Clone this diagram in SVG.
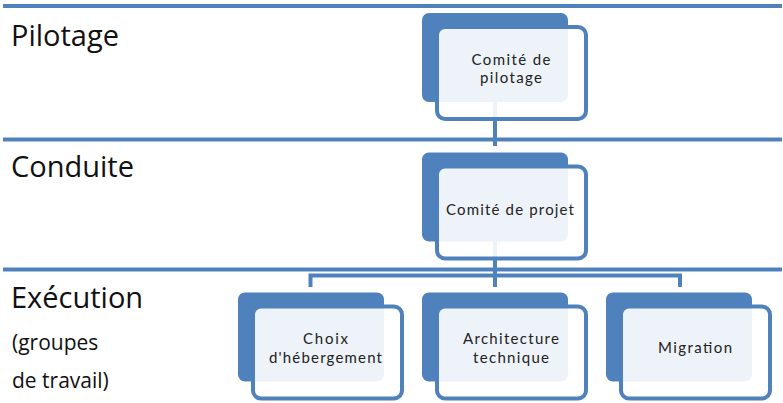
<svg xmlns="http://www.w3.org/2000/svg" width="783" height="403" viewBox="0 0 783 403">
  <style>
    .sep { stroke: #4F81BD; stroke-width: 4; fill: none; }
    .conn { stroke: #4F81BD; stroke-width: 4; fill: none; }
    .back { fill: #4F81BD; }
    .front { fill: #FFFFFF; fill-opacity: 0.9; stroke: #4F81BD; stroke-width: 4; }
    .lbl { font-family: "Open Sans", "Liberation Sans", sans-serif; font-size: 29px; fill: #111111; }
    .sub { font-family: "Open Sans", "Liberation Sans", sans-serif; font-size: 21px; fill: #111111; }
    .nt { font-family: Lato, "Open Sans", "Liberation Sans", sans-serif; font-size: 15px; fill: #222222; text-anchor: middle; }
  </style>
  <rect x="0" y="0" width="783" height="403" fill="#FFFFFF"/>

  <g id="bands">
    <line class="sep" x1="3" y1="6" x2="782" y2="6"/>
    <line class="sep" x1="3" y1="139.5" x2="782" y2="139.5"/>
    <line class="sep" x1="3" y1="269.5" x2="782" y2="269.5"/>
    <text class="lbl" x="11" y="45.5">Pilotage</text>
    <text class="lbl" x="11" y="177">Conduite</text>
    <text class="lbl" x="11" y="308">Exécution</text>
    <text class="sub" x="12" y="350">(groupes</text>
    <text class="sub" x="12" y="388">de travail)</text>
  </g>

  <g id="connectors">
    <line class="conn" x1="495" y1="102" x2="495" y2="146"/>
    <line class="conn" x1="495" y1="241" x2="495" y2="287"/>
    <polyline class="conn" points="310.5,287 310.5,275.5 680,275.5 680,287"/>
  </g>

  <g id="node-pilotage">
    <rect class="back" x="422" y="13" width="146" height="89" rx="7"/>
    <rect class="front" x="437" y="27" width="149" height="92" rx="8"/>
    <text class="nt" x="511" y="65" textLength="79" lengthAdjust="spacing">Comité de</text>
    <text class="nt" x="511" y="83" textLength="62" lengthAdjust="spacing">pilotage</text>
  </g>

  <g id="node-projet">
    <rect class="back" x="422" y="152.5" width="146" height="89" rx="7"/>
    <rect class="front" x="437" y="166.5" width="149" height="92" rx="8"/>
    <text class="nt" x="510" y="215" textLength="128" lengthAdjust="spacing">Comité de projet</text>
  </g>

  <g id="node-hebergement">
    <rect class="back" x="238" y="292.5" width="146" height="89" rx="7"/>
    <rect class="front" x="253" y="306.5" width="149" height="92" rx="8"/>
    <text class="nt" x="325.5" y="344" textLength="45" lengthAdjust="spacing">Choix</text>
    <text class="nt" x="325.5" y="362.5" textLength="113" lengthAdjust="spacing">d'hébergement</text>
  </g>

  <g id="node-architecture">
    <rect class="back" x="422" y="292.5" width="146" height="89" rx="7"/>
    <rect class="front" x="437" y="306.5" width="149" height="92" rx="8"/>
    <text class="nt" x="511" y="344" textLength="96" lengthAdjust="spacing">Architecture</text>
    <text class="nt" x="511" y="363" textLength="76" lengthAdjust="spacing">technique</text>
  </g>

  <g id="node-migration">
    <rect class="back" x="606" y="292.5" width="146" height="89" rx="7"/>
    <rect class="front" x="621" y="306.5" width="149" height="92" rx="8"/>
    <text class="nt" x="695" y="353" textLength="74" lengthAdjust="spacing">Migration</text>
  </g>
</svg>
